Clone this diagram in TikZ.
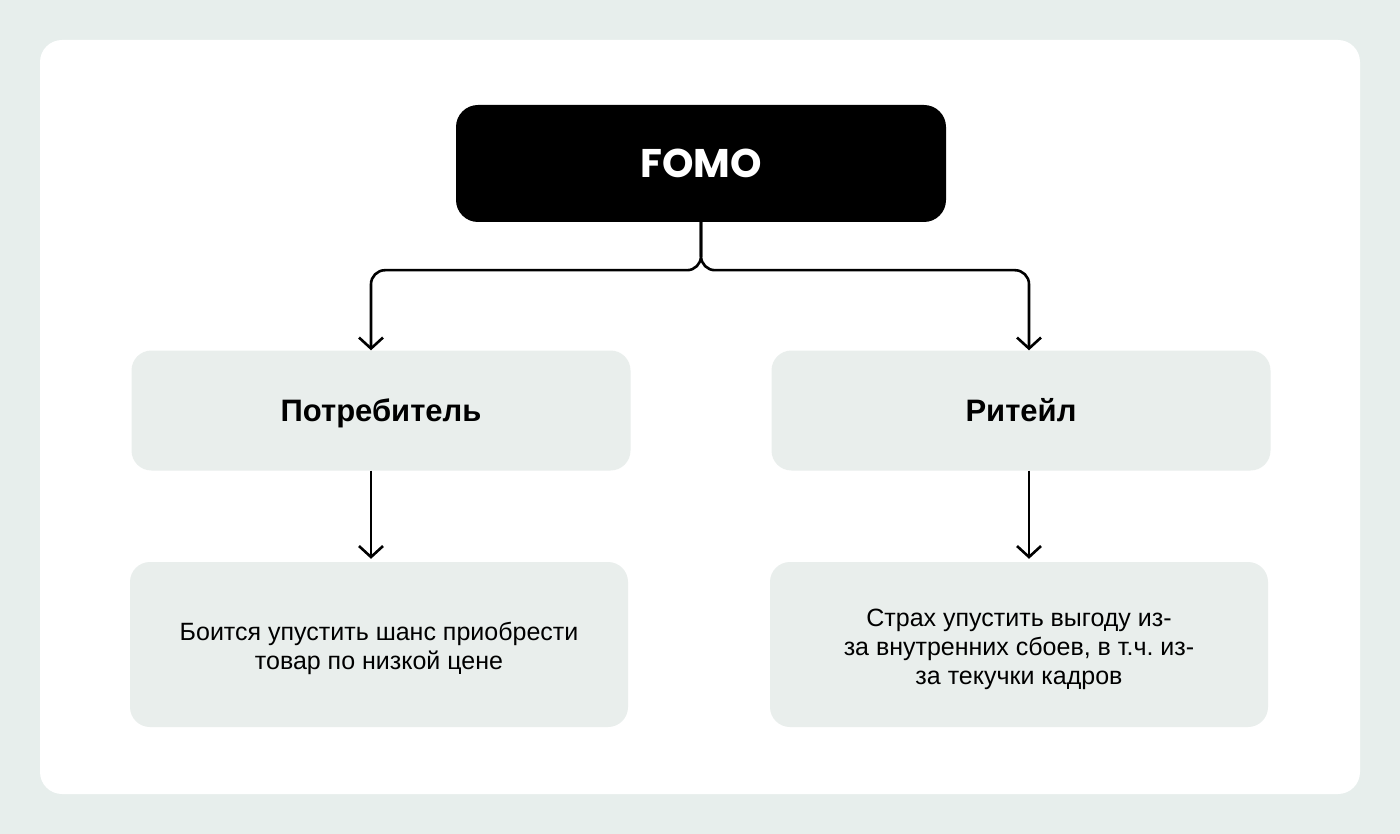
\documentclass[tikz,border=0pt]{standalone}
\usepackage{fontspec}
\setmainfont{Liberation Sans}
\newfontfamily\fomofont{Poppins}
\usetikzlibrary{arrows.meta}
\frenchspacing
\definecolor{bgc}{HTML}{E7EEEC}
\definecolor{boxc}{HTML}{E9EEEC}
\newcommand{\topstrut}{\rule{0pt}{27pt}}
\tikzset{
  card/.style={rectangle, fill=boxc, inner sep=0pt, rounded corners=20pt},
  midbox/.style={card, minimum width=499pt, minimum height=120pt, text height=22pt, text depth=0pt, font=\fontsize{31}{36}\selectfont\bfseries},
  lowbox/.style={card, minimum width=498pt, minimum height=165pt, align=center, font=\fontsize{25}{29}\selectfont},
  conn/.style={line width=2.6pt, rounded corners=14pt, -{Straight Barb[length=11pt, width=24pt, line width=2.6pt]}},
}
\begin{document}
\begin{tikzpicture}[x=1pt, y=-1pt]
\fill[bgc] (0,0) rectangle (1400,834);
\useasboundingbox (0,0) rectangle (1400,834);
\fill[white, rounded corners=22pt] (40,40) rectangle (1360,794);
\node[rectangle, fill=black, rounded corners=22pt, minimum width=490pt, minimum height=117pt, inner sep=0pt, text=white, text height=29pt, text depth=0pt, font=\fomofont\bfseries\fontsize{40}{46}\selectfont] (fomo) at (701,163.5) {FOMO};
\node[midbox] (potr) at (381,410.5) {Потребитель};
\node[midbox] (ret) at (1021,410.5) {Ритейл};
\node[lowbox] (boi) at (379,644.5) {\topstrut Боится упустить шанс приобрести\\товар по низкой цене};
\node[lowbox] (stra) at (1019,644.5) {\topstrut Страх упустить выгоду из-\\за внутренних сбоев, в т.ч. из-\\за текучки кадров};
\draw[conn] (fomo.south) -- ++(0,48) -| ([xshift=-10pt]potr.north);
\draw[conn] (fomo.south) -- ++(0,48) -| ([xshift=8pt]ret.north);
\draw[conn, shorten >=3pt] ([xshift=-10pt]potr.south) -- ([xshift=-8pt]boi.north);
\draw[conn, shorten >=3pt] ([xshift=8pt]ret.south) -- ([xshift=10pt]stra.north);
\end{tikzpicture}
\end{document}
